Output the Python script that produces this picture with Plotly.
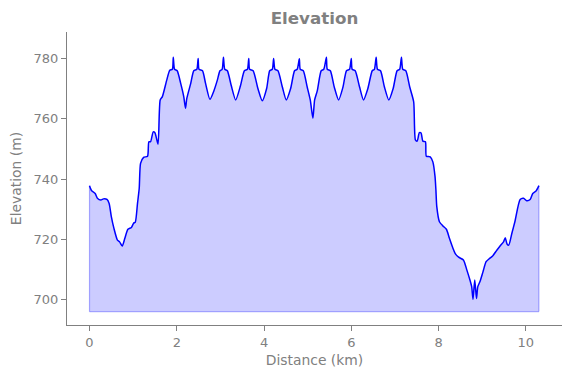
import plotly.graph_objects as go

distance_km = [
    0.00, 0.05, 0.13, 0.18, 0.26, 0.32, 0.40, 0.45, 0.50, 0.56, 0.64, 0.69, 0.75, 0.81, 0.88, 0.96,
    1.01, 1.05, 1.10, 1.14, 1.17, 1.24, 1.33, 1.36, 1.40, 1.46, 1.50, 1.57, 1.62, 1.67, 1.77, 1.84,
    1.90, 1.92, 1.95, 2.01, 2.09, 2.16, 2.20, 2.23, 2.32, 2.39, 2.46, 2.49, 2.51, 2.59, 2.66, 2.76,
    2.85, 2.93, 2.99, 3.04, 3.07, 3.10, 3.16, 3.25, 3.35, 3.46, 3.55, 3.62, 3.65, 3.67, 3.75, 3.86,
    3.96, 4.06, 4.13, 4.19, 4.22, 4.25, 4.32, 4.42, 4.51, 4.61, 4.70, 4.76, 4.81, 4.83, 4.90, 4.99,
    5.06, 5.12, 5.16, 5.22, 5.31, 5.37, 5.43, 5.45, 5.52, 5.61, 5.71, 5.81, 5.89, 5.96, 6.00, 6.02,
    6.09, 6.19, 6.28, 6.38, 6.48, 6.53, 6.57, 6.60, 6.67, 6.76, 6.86, 6.96, 7.05, 7.11, 7.15, 7.18,
    7.25, 7.34, 7.43, 7.47, 7.51, 7.56, 7.60, 7.64, 7.70, 7.72, 7.81, 7.87, 7.92, 7.94, 7.96, 8.02,
    8.10, 8.18, 8.25, 8.33, 8.38, 8.46, 8.57, 8.65, 8.73, 8.76, 8.79, 8.83, 8.87, 8.90, 8.95, 9.02,
    9.09, 9.17, 9.24, 9.34, 9.41, 9.49, 9.53, 9.57, 9.61, 9.68, 9.75, 9.87, 9.95, 10.02, 10.10, 10.16,
    10.24, 10.30,
]
elevation_m = [
    737.8, 736.1, 735.2, 733.6, 733.0, 733.4, 733.2, 731.9, 727.5, 723.6, 719.7, 719.1, 717.7, 720.3, 723.3, 723.9,
    725.3, 725.7, 731.9, 737.0, 745.2, 747.2, 747.6, 752.4, 752.4, 755.7, 755.4, 751.6, 766.3, 767.4, 772.9, 776.2,
    776.5, 780.5, 776.5, 776.0, 771.8, 767.4, 763.5, 766.8, 771.8, 776.0, 776.5, 780.1, 776.5, 776.0, 771.8, 766.5,
    769.3, 772.9, 776.0, 776.5, 780.5, 776.5, 776.0, 771.0, 766.3, 771.0, 776.0, 776.5, 780.1, 776.5, 776.0, 770.1,
    766.0, 770.1, 776.0, 776.5, 780.1, 776.5, 776.0, 770.6, 766.3, 770.1, 776.0, 776.5, 780.0, 776.5, 776.0, 770.6,
    766.3, 760.2, 766.3, 769.3, 776.0, 776.5, 780.5, 776.5, 776.0, 770.6, 766.3, 770.6, 776.0, 776.5, 780.1, 776.5,
    776.0, 770.6, 766.3, 770.1, 776.0, 776.5, 780.5, 776.5, 776.0, 770.6, 766.3, 770.1, 776.0, 776.5, 780.5, 776.5,
    776.0, 770.6, 765.7, 753.0, 752.6, 755.4, 755.3, 752.6, 752.4, 747.6, 747.4, 745.7, 740.8, 736.3, 730.8, 725.8,
    724.4, 723.3, 720.3, 717.0, 715.3, 714.0, 713.1, 709.7, 705.9, 704.2, 700.0, 706.4, 700.3, 704.2, 705.9, 709.2,
    712.5, 713.6, 714.4, 716.4, 717.7, 719.1, 720.5, 718.4, 718.0, 721.9, 725.8, 733.2, 733.6, 732.8, 733.2, 735.2,
    736.1, 737.8,
]
fill_base_m = 695.9

x_tick_values = [0, 2, 4, 6, 8, 10]
y_tick_values = [700, 720, 740, 760, 780]

GRAY = "#808080"
FONT = "DejaVu Sans"

fig = go.Figure()
# baseline of the shaded area (drawn from the data extent)
fig.add_trace(go.Scatter(
    x=[distance_km[0], distance_km[-1]], y=[fill_base_m, fill_base_m], mode="lines",
    line=dict(color="rgba(0,0,255,0.3)", width=1.2),
    hoverinfo="skip", showlegend=False,
))
fig.add_trace(go.Scatter(
    x=distance_km, y=elevation_m, mode="lines",
    fill="tonexty", fillcolor="rgba(0,0,255,0.2)",
    line=dict(color="blue", width=1.5, shape="spline", smoothing=0.6),
    showlegend=False,
))
# vertical edges of the shaded area
fig.add_trace(go.Scatter(
    x=[distance_km[0], distance_km[0], None, distance_km[-1], distance_km[-1]],
    y=[fill_base_m, elevation_m[0], None, fill_base_m, elevation_m[-1]],
    mode="lines", line=dict(color="rgba(0,0,255,0.3)", width=1.2),
    hoverinfo="skip", showlegend=False,
))

# The page body has an 8px margin, so the figure is sized/offset to compensate.
fig.update_layout(
    width=563, height=370,
    margin=dict(l=59, r=9, t=24, b=53, autoexpand=False),
    paper_bgcolor="white", plot_bgcolor="white",
    font=dict(family=FONT, color=GRAY, size=13),
    title=dict(
        text="<b>Elevation</b>", x=0.5, xref="paper", xanchor="center",
        y=1 - 10 / 370, yanchor="middle", yref="container",
        font=dict(family=FONT, size=16.7, color=GRAY),
    ),
    xaxis=dict(
        range=[-0.516, 10.83], tickvals=x_tick_values, automargin=False,
        showgrid=False, zeroline=False,
        showline=True, linecolor=GRAY, linewidth=1.1,
        ticks="outside", ticklen=5, tickwidth=1.1, tickcolor=GRAY,
        tickfont=dict(size=13, color=GRAY),
        title=dict(text="Distance (km)", font=dict(size=13.9, color=GRAY), standoff=6),
    ),
    yaxis=dict(
        range=[691.45, 788.9], tickvals=y_tick_values, automargin=False,
        showgrid=False, zeroline=False,
        showline=True, linecolor=GRAY, linewidth=1.1,
        ticks="outside", ticklen=5, tickwidth=1.1, tickcolor=GRAY,
        tickfont=dict(size=13, color=GRAY),
        title=dict(text="Elevation (m)", font=dict(size=13.9, color=GRAY), standoff=8),
    ),
)

fig.write_html("out.html")
